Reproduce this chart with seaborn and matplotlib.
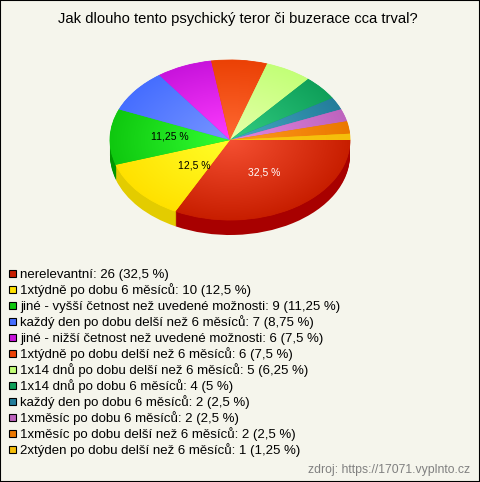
import matplotlib
matplotlib.use('Agg')
import matplotlib.pyplot as plt
import matplotlib.patches as mpatches
import numpy as np
import seaborn as sns

TITLE = 'Jak dlouho tento psychický teror či buzerace cca trval?'
SOURCE = 'zdroj: https://17071.vyplnto.cz'

categories = ['nerelevantní', '1xtýdně po dobu 6 měsíců', 'jiné - vyšší četnost než uvedené možnosti',
              'každý den po dobu delší než 6 měsíců', 'jiné - nižší četnost než uvedené možnosti',
              '1xtýdně po dobu delší než 6 měsíců', '1x14 dnů po dobu delší než 6 měsíců',
              '1x14 dnů po dobu 6 měsíců', 'každý den po dobu 6 měsíců', '1xměsíc po dobu 6 měsíců',
              '1xměsíc po dobu delší než 6 měsíců', '2xtýden po dobu delší než 6 měsíců']
counts = [26, 10, 9, 7, 6, 6, 5, 4, 2, 2, 2, 1]
percents = ['32,5', '12,5', '11,25', '8,75', '7,5', '7,5', '6,25', '5', '2,5', '2,5', '2,5', '1,25']

rim_colors = ['#c81e00', '#ffe100', '#0fc80f', '#466eff', '#c814dc', '#eb4105',
              '#c3ff78', '#0fa05a', '#237d9b', '#be64be', '#eb7800', '#f5be0a']
inner_colors = ['#f55032', '#ffff28', '#32ff32', '#7896ff', '#ff3cff', '#ff6932',
                '#e6ffaa', '#32cd82', '#46aac3', '#e187e1', '#ff9b1e', '#fac814']
side_colors = ['#a80000', '#e3cc00', '#009600', '#3250c8', '#9600aa', '#b43200',
               '#96c85a', '#0a7846', '#195f78', '#964b96', '#b45a00', '#c89600']

W, H = 480, 482
CX, CY, RX, RY, DEPTH = 230, 140, 120, 80, 15

sns.set_theme(style='white')
plt.rcParams['font.family'] = ['Liberation Sans', 'DejaVu Sans']
BG = '#f5f5ec'

fig = plt.figure(figsize=(W / 100, H / 100), dpi=100, facecolor=BG)
ax = fig.add_axes([0, 0, 1, 1])
ax.axis('off')

# side of the pie: same wedges stacked downwards
for d in range(DEPTH, 0, -1):
    ax.pie(counts, colors=sns.color_palette(side_colors), startangle=0, counterclock=False,
           center=(0, -d / RY), radius=1, frame=False, wedgeprops={'linewidth': 0, 'edgecolor': 'none'})

wedges, _ = ax.pie(counts, colors=sns.color_palette(rim_colors), startangle=0, counterclock=False,
                   radius=1, frame=False, wedgeprops={'linewidth': 0.6})

# radial shine on each wedge
yy, xx = np.mgrid[-1:1:400j, -1:1:400j]
dist = np.clip(np.hypot(xx, yy), 0, 1)[..., None]
for wedge, rim, inner in zip(wedges, rim_colors, inner_colors):
    wedge.set_edgecolor(rim)
    rim_rgb = np.array(matplotlib.colors.to_rgb(rim))
    inner_rgb = np.array(matplotlib.colors.to_rgb(inner))
    img = ax.imshow(inner_rgb + (rim_rgb - inner_rgb) * dist, extent=(-1, 1, -1, 1), origin='lower',
                    aspect='auto', zorder=wedge.get_zorder() + 0.5)
    img.set_clip_path(wedge)

ax.set_aspect('auto')
ax.set_xlim(-CX / RX, (W - CX) / RX)
ax.set_ylim((CY - H) / RY, CY / RY)

# value labels on the big slices
label_radius = [0.54, 0.39, 0.5]
label_dy = [4, -5, 2]
label_colors = ['white', 'black', 'black']
edges = np.cumsum([0] + counts) / sum(counts) * 360
for i in range(3):
    mid = np.deg2rad(-(edges[i] + edges[i + 1]) / 2)
    ax.text(label_radius[i] * np.cos(mid), label_radius[i] * np.sin(mid) + label_dy[i] / RY, percents[i] + ' %',
            color=label_colors[i], fontsize=7.5, ha='center', va='center', zorder=5)

fig.text(237.5 / W, 1 - 18.5 / H, TITLE, fontsize=10.65, color='black', ha='center', va='center')

# legend rows sit on a fixed 16 px pitch
for i, (name, n, pct, color) in enumerate(zip(categories, counts, percents, rim_colors)):
    row_y = 273.5 + 16 * i
    fig.add_artist(mpatches.Rectangle((9 / W, 1 - (row_y + 3.5) / H), 7 / W, 7 / H, transform=fig.transFigure,
                                      facecolor=color, edgecolor='black', linewidth=0.8))
    fig.text(20 / W, 1 - (row_y + 4.5) / H, f'{name}: {n} ({pct} %)', fontsize=9.55, color='black',
             ha='left', va='baseline')

fig.text(470 / W, 1 - 470 / H, SOURCE, fontsize=8.85, color='#808080', ha='right', va='center')

fig.add_artist(mpatches.Rectangle((0, 0), 1, 1, transform=fig.transFigure, fill=False,
                                  edgecolor='black', linewidth=1.5))

fig.savefig('out.png', dpi=100, facecolor=BG)
